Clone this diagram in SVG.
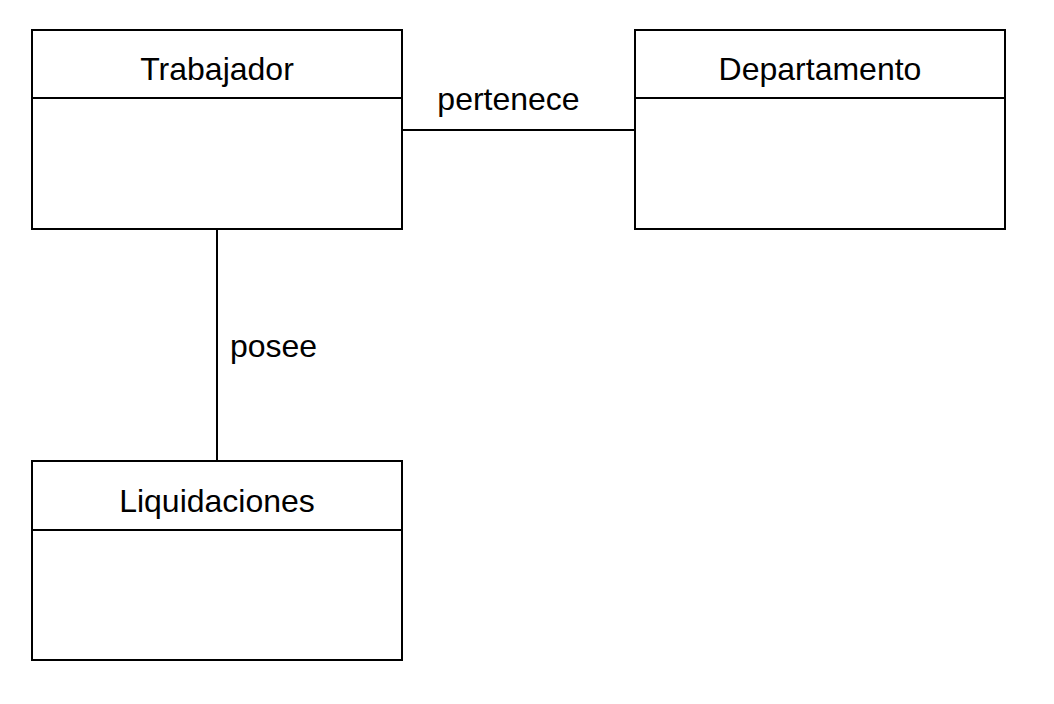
<svg xmlns="http://www.w3.org/2000/svg" width="1054" height="704" viewBox="0 0 1054 704">
<style>
.box{fill:#fff;stroke:#000;stroke-width:2}
.sep{stroke:#000;stroke-width:2}
.edge{stroke:#000;stroke-width:2;fill:none}
text{font-family:"Liberation Sans",Arial,sans-serif;font-size:32px;fill:#000}
.c{text-anchor:middle}
</style>
<rect width="1054" height="704" fill="#fff"/>
<g id="connectors">
<line class="edge" x1="402" y1="130" x2="635" y2="130"/>
<line class="edge" x1="217" y1="229" x2="217" y2="461"/>
<text class="c" x="508.5" y="110">pertenece</text>
<text class="c" x="273.5" y="357">posee</text>
</g>
<g id="trabajador">
<rect class="box" x="32" y="30" width="370" height="199"/>
<line class="sep" x1="32" y1="98" x2="402" y2="98"/>
<text class="c" x="217" y="80">Trabajador</text>
</g>
<g id="departamento">
<rect class="box" x="635" y="30" width="370" height="199"/>
<line class="sep" x1="635" y1="98" x2="1005" y2="98"/>
<text class="c" x="820" y="80">Departamento</text>
</g>
<g id="liquidaciones">
<rect class="box" x="32" y="461" width="370" height="199"/>
<line class="sep" x1="32" y1="530" x2="402" y2="530"/>
<text class="c" x="217" y="512">Liquidaciones</text>
</g>
</svg>
